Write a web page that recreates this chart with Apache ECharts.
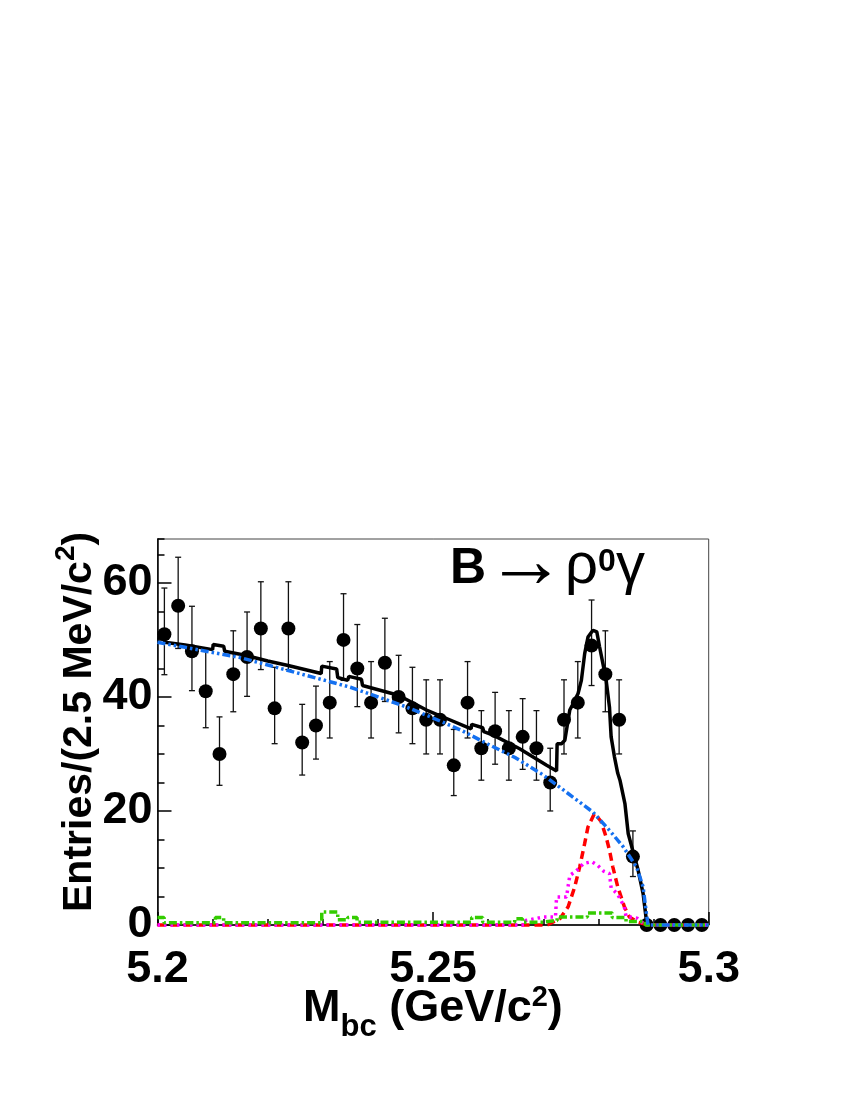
<!DOCTYPE html>
<html><head><meta charset="utf-8">
<script src="https://cdn.jsdelivr.net/npm/echarts@6/dist/echarts.min.js"></script>
<style>html,body{margin:0;padding:0;background:#fff}#c{width:850px;height:1100px}</style>
</head><body><div id="c"></div><script>
// ---------------- data ----------------
const mbc = [5.20125,5.20375,5.20625,5.20875,5.21125,5.21375,5.21625,5.21875,5.22125,5.22375,
             5.22625,5.22875,5.23125,5.23375,5.23625,5.23875,5.24125,5.24375,5.24625,5.24875,
             5.25125,5.25375,5.25625,5.25875,5.26125,5.26375,5.26625,5.26875,5.27125,5.27375,
             5.27625,5.27875,5.28125,5.28375,5.28625,5.28875,5.29125,5.29375,5.29625,5.29875];
const entries = [51,56,48,41,30,44,47,52,38,52,32,35,39,50,45,39,46,40,38,36,
                 36,28,39,31,34,31,33,31,25,36,39,49,44,36,12,0,0,0,0,0];
const errLo = [7.1,7.5,6.9,6.4,5.5,6.6,6.9,7.2,6.2,7.2,5.7,5.9,6.2,7.1,6.7,6.2,6.8,6.3,6.2,6.0,
               6.0,5.3,6.2,5.6,5.8,5.6,5.7,5.6,5.0,6.0,6.2,7.0,6.6,6.0,3.5,0,0,0,0,0];
const errHi = [8.1,8.5,7.9,7.4,6.5,7.6,7.9,8.2,7.2,8.2,6.7,6.9,7.2,8.1,7.7,7.2,7.8,7.3,7.2,7.0,
               7.0,6.3,7.2,6.6,6.8,6.6,6.7,6.6,6.0,7.0,7.2,8.0,7.6,7.0,4.5,0,0,0,0,0];

const totalX = [5.2000,5.2012,5.2013,5.2050,5.2100,5.2101,5.2120,5.2122,5.2159,5.2200,5.2237,5.2297,5.2298,5.2325,5.2327,5.2345,5.2347,5.2370,5.2372,5.2437,5.2488,5.2530,5.2569,5.2570,5.2590,5.2592,5.2609,5.2657,5.2706,5.2724,5.2725,5.2733,5.2739,5.2748,5.2754,5.2763,5.2769,5.2775,5.2781,5.2790,5.2797,5.2802,5.2808,5.2814,5.2820,5.2823,5.2829,5.2835,5.2839,5.2848,5.2854,5.2863,5.2872,5.2881,5.2887,5.2890,5.3000];
const totalY = [50.4,50.2,49.6,49.1,48.3,49.2,48.9,48.0,47.3,46.3,45.5,44.1,45.4,44.9,43.4,42.9,43.6,43.1,42.0,40.3,37.7,36.0,34.4,35.2,34.6,33.9,33.3,30.9,28.0,27.0,31.8,31.8,32.4,37.7,38.8,40.6,42.9,47.6,50.5,51.7,51.4,48.8,45.9,42.9,38.2,33.0,29.5,26.6,25.4,21.3,16.0,12.8,9.6,5.5,0.8,0,0];

const bkgX = [5.2000,5.2050,5.2100,5.2150,5.2200,5.2250,5.2300,5.2350,5.2400,5.2450,5.2500,5.2550,5.2600,5.2650,5.2700,5.2750,5.2790,5.2820,5.2845,5.2869,5.2881,5.2887,5.2890,5.3000];
const bkgY = [49.6,48.7,47.8,46.9,45.6,44.3,43.0,41.7,40.0,38.3,36.3,34.2,31.7,29.3,26.3,22.7,19.8,16.6,13.7,10.2,6.7,2.0,0,0];

const sigX = [5.2000,5.2700,5.2709,5.2730,5.2745,5.2757,5.2766,5.2775,5.2781,5.2793,5.2805,5.2814,5.2820,5.2826,5.2835,5.2847,5.2856,5.2872,5.2890,5.3000];
const sigY = [0,0,0.1,1.1,3.2,6.7,10.2,14.3,17.2,19.6,18.1,15.4,13.1,10.2,6.7,3.2,1.4,0.5,0,0];

const magX = [5.2000,5.2665,5.2668,5.2700,5.2722,5.2724,5.2742,5.2748,5.2760,5.2773,5.2788,5.2798,5.2810,5.2820,5.2823,5.2834,5.2847,5.2850,5.2870,5.2885,5.3000];
const magY = [0,0,0.8,1.4,1.4,4.9,4.9,8.7,9.5,10.8,11.1,10.5,9.4,9.0,6.5,5.5,3.2,1.5,1.2,0,0];

const grnX = [5.2000,5.2012,5.2105,5.2120,5.2298,5.2327,5.2345,5.2362,5.2570,5.2590,5.2648,5.2662,5.2700,5.2725,5.2780,5.2825,5.2850,5.2885,5.3000];
const grnY = [1.3,0.4,1.3,0.4,2.3,0.9,1.3,0.5,1.3,0.5,1.1,0.5,0.8,1.4,2.1,1.3,0.6,0,0];

const xTickLabels = {'5.2':'5.2','5.25':'5.25','5.3':'5.3'};
const yTickLabels = {'0':'0','20':'20','40':'40','60':'60'};

// ---------------- helpers ----------------
const FONT = '"Liberation Sans", Arial, Helvetica, sans-serif';
const zip = (a, b) => a.map((v, i) => [v, b[i]]);
const mctx = document.createElement('canvas').getContext('2d');
function pieces(list, x0, y0, rot) {
  let s = 0; const els = [];
  for (const p of list) {
    const font = (p.bold ? 'bold ' : '') + p.size + 'px ' + (p.family || FONT);
    mctx.font = font;
    const wd = mctx.measureText(p.t).width;
    const up = (p.rise || 0) + 0.31 * p.size;
    let x, y;
    if (rot) { x = x0 - up; y = y0 - s; } else { x = x0 + s; y = y0 - up; }
    els.push({type:'text', x:x, y:y, rotation:rot || 0, z:100, silent:true,
      style:{text:p.t, font:font, fill:'#000', align:'left', verticalAlign:'middle',
             textAlign:'left', textVerticalAlign:'middle'}});
    s += wd + (p.gap || 0);
  }
  return els;
}

const graphics = [].concat(
  // title  B -> rho0 gamma
  pieces([
    {t:'B', size:50, bold:true, gap:0},
    {t:'\u2192', size:80, rise:-5, gap:-1},
    {t:'\u03C1', size:58},
    {t:'0', size:32, bold:true, rise:13},
    {t:'\u03B3', size:58}
  ], 450, 585, 0),
  // x title
  pieces([
    {t:'M', size:45, bold:true},
    {t:'bc', size:31, bold:true, rise:-14},
    {t:' (GeV/c', size:45, bold:true},
    {t:'2', size:29, bold:true, rise:16},
    {t:')', size:45, bold:true}
  ], 303, 1023, 0),
  // y title (rotated)
  pieces([
    {t:'Entries/(2.5 MeV/c', size:41, bold:true},
    {t:'2', size:28, bold:true, rise:17},
    {t:')', size:41, bold:true}
  ], 92, 912, Math.PI / 2)
);

const axisCol = '#000';
const chart = echarts.init(document.getElementById('c'), null, {renderer:'canvas'});
chart.setOption({
  animation:false,
  backgroundColor:'#fff',
  grid:{left:157.5, right:141.3, top:539, bottom:175, show:true, borderColor:'#444', borderWidth:1, backgroundColor:'transparent'},
  xAxis:{type:'value', min:5.2, max:5.3, interval:0.05,
    axisLine:{show:true, onZero:false, lineStyle:{color:axisCol, width:1.5}},
    axisTick:{show:true, inside:true, length:13, lineStyle:{color:axisCol, width:1.5}},
    minorTick:{show:true, splitNumber:5, length:6, lineStyle:{color:axisCol, width:1.5}},
    splitLine:{show:false}, minorSplitLine:{show:false},
    axisLabel:{fontSize:45, fontWeight:'bold', color:'#000', fontFamily:FONT, margin:22,
      showMinLabel:true, showMaxLabel:true,
      formatter:v => { const k = String(parseFloat(v.toFixed(3))); return xTickLabels[k] || ''; }}
  },
  yAxis:[
    {type:'value', min:0, max:67.7, interval:20, position:'left',
      axisLine:{show:true, onZero:false, lineStyle:{color:axisCol, width:1.5}},
      axisTick:{show:true, inside:true, length:14, lineStyle:{color:axisCol, width:1.5}},
      splitLine:{show:false},
      axisLabel:{fontSize:45, fontWeight:'bold', color:'#000', fontFamily:FONT, margin:5,
        padding:[10,0,0,0], showMaxLabel:false,
        formatter:v => { const k = String(Math.round(v)); return (Math.abs(v - Math.round(v)) < 1e-6 && yTickLabels[k]) ? yTickLabels[k] : ''; }}
    },
    {type:'value', min:0, max:67.7, interval:5, position:'left', offset:0,
      axisLine:{show:false},
      axisTick:{show:true, inside:true, length:7, lineStyle:{color:axisCol, width:1.5}},
      splitLine:{show:false}, axisLabel:{show:false}
    }
  ],
  graphic:graphics,
  series:[
    {type:'custom', z:2, clip:false,
      data: mbc.map((x, i) => [x, entries[i] - errLo[i], entries[i] + errHi[i]]),
      renderItem:(params, api) => {
        const x = api.value(0), lo = api.value(1), hi = api.value(2);
        if (hi - lo <= 0) return null;
        const p1 = api.coord([x, lo]), p2 = api.coord([x, hi]);
        const hw = 3, st = {stroke:'#111', lineWidth:1.3};
        return {type:'group', children:[
          {type:'line', shape:{x1:p1[0], y1:p1[1], x2:p2[0], y2:p2[1]}, style:st},
          {type:'line', shape:{x1:p1[0]-hw, y1:p1[1], x2:p1[0]+hw, y2:p1[1]}, style:st},
          {type:'line', shape:{x1:p2[0]-hw, y1:p2[1], x2:p2[0]+hw, y2:p2[1]}, style:st}
        ]};
      }
    },
    {type:'scatter', z:3, clip:false, symbol:'circle', symbolSize:14,
      itemStyle:{color:'#000', opacity:1}, data: zip(mbc, entries)},
    {type:'line', z:4, clip:false, showSymbol:false, symbol:'none', data: zip(totalX, totalY),
      lineStyle:{color:'#000', width:3.5}},
    {type:'line', z:5, clip:false, showSymbol:false, symbol:'none', data: zip(sigX, sigY),
      lineStyle:{color:'#ff0000', width:3.5, type:[8,5]}},
    {type:'line', z:5, clip:false, showSymbol:false, symbol:'none', data: zip(magX, magY),
      lineStyle:{color:'#ff00ff', width:3.5, type:[2.5,4]}},
    {type:'line', z:5, clip:false, showSymbol:false, symbol:'none', step:'end', data: zip(grnX, grnY),
      lineStyle:{color:'#33cc00', width:3.5, type:[8,3,2.5,3]}},
    {type:'line', z:6, clip:false, showSymbol:false, symbol:'none', data: zip(bkgX, bkgY),
      lineStyle:{color:'#1470f0', width:3.5, type:[8,3,2.5,3,2.5,3]}}
  ]
});
</script></body></html>
